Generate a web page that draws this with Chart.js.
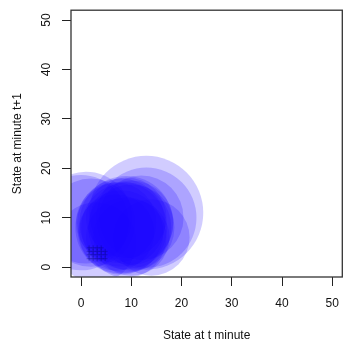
<!DOCTYPE html>
<html>
<head>
<meta charset="utf-8">
<script src="https://cdn.jsdelivr.net/npm/chart.js@4.4.1/dist/chart.umd.min.js"></script>
<style>
  html, body { margin: 0; padding: 0; background: #fff; }
  #wrap { width: 349px; height: 347px; }
</style>
</head>
<body>
<div id="wrap"><canvas id="stateChart"></canvas></div>
<script>
// transitions: state at t -> state at t+1, with how often each was seen
const stateT    = [13, 13, 12, 0, 1, 2, 3, 14, 9, 8, 9, 10, 8, 9, 10, 7, 8, 9, 10, 7];
const stateNext = [11, 10, 10, 9, 10, 9, 5, 6, 9, 9, 8, 9, 8, 10, 8, 9, 7, 6, 6, 7];
const counts    = [40, 31, 22, 28, 26, 24, 20, 18, 27, 24, 25, 22, 26, 20, 23, 20, 22, 20, 18, 18];

// single observations, drawn as '+'
const singleT    = [1.6, 2.4, 3.2, 4.0, 4.8, 1.6, 2.4, 3.2, 4.0, 4.8, 1.6, 2.4, 3.2, 4.0, 4.8, 1.6, 2.4, 3.2, 4.0];
const singleNext = [1.7, 1.7, 1.7, 1.7, 1.7, 2.5, 2.5, 2.5, 2.5, 2.5, 3.2, 3.2, 3.2, 3.2, 3.2, 3.9, 3.9, 3.9, 3.9];

const xTicks = [0, 10, 20, 30, 40, 50];
const yTicks = [0, 10, 20, 30, 40, 50];

const FONT = '"Liberation Sans", Arial, sans-serif';

const bubbles = stateT.map((x, i) => ({ x: x, y: stateNext[i], r: 9 * Math.sqrt(counts[i]) }));
const singles = singleT.map((x, i) => ({ x: x, y: singleNext[i] }));

// R-like box and rotated y tick labels
const rFrame = {
  id: 'rFrame',
  afterDraw(chart) {
    const { ctx, chartArea: a, scales: { y } } = chart;
    ctx.save();
    ctx.strokeStyle = '#333';
    ctx.lineWidth = 1.3;
    ctx.strokeRect(a.left, a.top, a.right - a.left, a.bottom - a.top);
    ctx.fillStyle = '#111';
    ctx.font = '12px ' + FONT;
    ctx.textAlign = 'center';
    ctx.textBaseline = 'middle';
    yTicks.forEach(v => {
      ctx.save();
      ctx.translate(a.left - 24.5, y.getPixelForValue(v));
      ctx.rotate(-Math.PI / 2);
      ctx.fillText(String(v), 0, 0);
      ctx.restore();
    });
    ctx.restore();
  }
};

const setTicks = list => scale => { scale.ticks = list.map(v => ({ value: v })); };

new Chart(document.getElementById('stateChart'), {
  type: 'bubble',
  data: {
    datasets: [
      {
        data: bubbles,
        backgroundColor: 'rgba(25, 0, 255, 0.2)',
        borderWidth: 0,
        clip: 0,
        order: 2
      },
      {
        type: 'scatter',
        data: singles,
        pointStyle: 'cross',
        radius: 2.5,
        borderColor: 'rgba(0, 0, 110, 0.35)',
        borderWidth: 1,
        clip: 0,
        order: 1
      }
    ]
  },
  options: {
    responsive: true,
    maintainAspectRatio: false,
    animation: false,
    layout: { autoPadding: false, padding: { top: 5, right: 2, left: 0, bottom: 0 } },
    plugins: { legend: { display: false }, tooltip: { enabled: false } },
    scales: {
      x: {
        type: 'linear',
        min: -2, max: 52,
        afterBuildTicks: setTicks(xTicks),
        afterFit: s => { s.height = 70; },
        border: { display: false },
        grid: { drawOnChartArea: false, tickLength: 9, tickColor: '#222', lineWidth: 1 },
        ticks: { color: '#111', padding: 10, maxRotation: 0, font: { family: FONT, size: 12 } },
        title: { display: true, text: 'State at t minute', color: '#111', padding: { top: 0, bottom: 4 }, font: { family: FONT, size: 12 } }
      },
      y: {
        type: 'linear',
        min: -2, max: 52,
        afterBuildTicks: setTicks(yTicks),
        afterFit: s => { s.width = 71; },
        border: { display: false },
        grid: { drawOnChartArea: false, tickLength: 9, tickColor: '#222', lineWidth: 1 },
        ticks: { color: 'rgba(0,0,0,0)', font: { family: FONT, size: 12 } },
        title: { display: true, text: 'State at minute t+1', color: '#111', padding: { top: 10, bottom: 0 }, font: { family: FONT, size: 12 } }
      }
    }
  },
  plugins: [rFrame]
});
</script>
</body>
</html>
